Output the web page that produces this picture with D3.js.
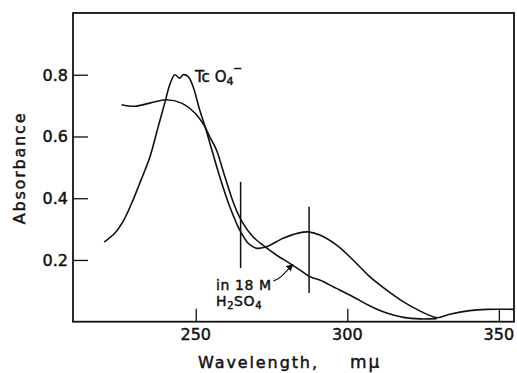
<!DOCTYPE html>
<html>
<head>
<meta charset="utf-8">
<script src="https://cdn.jsdelivr.net/npm/d3@7"></script>
<style>
  body { margin: 0; background: #fff; }
  text { font-family: "DejaVu Sans", sans-serif; fill: #111; stroke: #111; stroke-width: 0.45; }
</style>
</head>
<body>
<svg id="chart" width="517" height="373"></svg>
<script>
// TcO4- in water (sharp double peak)
const waterWl = [219.8, 223.4, 226.3, 229.3, 231.3, 233.3, 234.9, 237.6, 239.9, 241.4, 243.1, 244.7, 245.8, 247.5, 249.1, 251.3, 253.0, 255.3, 257.9, 261.2, 264.5, 267.3, 270.0, 272.8, 276.6, 278.8, 283.8, 287.0, 290.9, 296.4, 301.9, 307.4, 312.9, 318.4, 323.9, 328.3, 329.9, 333.8, 340.4, 345.9, 355.0]
const waterAbs = [0.258, 0.288, 0.330, 0.394, 0.443, 0.492, 0.534, 0.631, 0.713, 0.767, 0.800, 0.789, 0.800, 0.794, 0.762, 0.686, 0.634, 0.557, 0.470, 0.373, 0.297, 0.254, 0.238, 0.241, 0.259, 0.270, 0.287, 0.291, 0.281, 0.249, 0.200, 0.146, 0.103, 0.065, 0.035, 0.016, 0.013, 0.024, 0.036, 0.040, 0.040]

// TcO4- in 18 M H2SO4 (broad band)
const acidWl = [225.5, 229.9, 234.8, 240.3, 245.3, 249.7, 253.0, 254.6, 256.8, 259.6, 262.9, 265.5, 268.8, 272.8, 276.6, 281.0, 284.3, 287.6, 290.9, 296.4, 302.0, 307.5, 313.0, 318.5, 324.0, 329.5]
const acidAbs = [0.703, 0.698, 0.708, 0.719, 0.708, 0.676, 0.632, 0.599, 0.557, 0.470, 0.373, 0.320, 0.276, 0.243, 0.216, 0.189, 0.168, 0.146, 0.135, 0.108, 0.080, 0.051, 0.028, 0.014, 0.009, 0.010]

// vertical marker bars
const markWl = [264.8, 287.4]
const markTop = [0.453, 0.372]
const markBottom = [0.174, 0.093]

const xTicks = [250, 300, 350]
const yTicks = [0.2, 0.4, 0.6, 0.8]

// leader from the "in 18 M" label to the acid curve
const arrowWl = [275.6, 277.8, 280.8, 282.1]
const arrowAbs = [0.132, 0.140, 0.174, 0.185]

const svg = d3.select('#chart')
const plotLeft = 73, plotRight = 514, plotTop = 13, plotBottom = 321.7

const x = d3.scaleLinear().domain([209.5, 355]).range([plotLeft, plotRight])
const y = d3.scaleLinear().domain([0, 1.0]).range([plotBottom, plotTop])

const ink = '#111'

// frame
svg.append('rect')
    .attr('x', plotLeft).attr('y', plotTop)
    .attr('width', plotRight - plotLeft).attr('height', plotBottom - plotTop)
    .attr('fill', 'none').attr('stroke', ink).attr('stroke-width', 1.8)

// inward ticks
svg.append('g')
    .attr('transform', `translate(0,${plotBottom})`)
    .call(d3.axisTop(x).tickValues(xTicks).tickSize(13).tickFormat(''))
    .call(g => g.select('.domain').remove())
    .selectAll('line').attr('stroke', ink).attr('stroke-width', 1.3)

svg.append('g')
    .attr('transform', `translate(${plotLeft},0)`)
    .call(d3.axisRight(y).tickValues(yTicks).tickSize(15).tickFormat(''))
    .call(g => g.select('.domain').remove())
    .selectAll('line').attr('stroke', ink).attr('stroke-width', 1.3)

// tick labels
svg.selectAll('.xlab')
    .data(xTicks)
    .enter()
    .append('text')
    .attr('class', 'xlab')
    .attr('x', d => x(d))
    .attr('y', 340)
    .attr('text-anchor', 'middle')
    .attr('font-size', 16)
    .text(d => d)

svg.selectAll('.ylab')
    .data(yTicks)
    .enter()
    .append('text')
    .attr('class', 'ylab')
    .attr('x', 68)
    .attr('y', d => y(d) + 6)
    .attr('text-anchor', 'end')
    .attr('font-size', 16)
    .text(d => d.toFixed(1))

// axis titles
svg.append('text')
    .attr('x', 198).attr('y', 368)
    .attr('font-size', 16)
    .attr('letter-spacing', 1.9)
    .text('Wavelength,')

svg.append('text')
    .attr('x', 350).attr('y', 368)
    .attr('font-size', 17)
    .attr('letter-spacing', 2)
    .text('mμ')

svg.append('text')
    .attr('transform', 'translate(25,168) rotate(-90)')
    .attr('text-anchor', 'middle')
    .attr('font-size', 16)
    .attr('letter-spacing', 1.8)
    .text('Absorbance')

// curves
const line = d3.line()
    .x(d => x(d[0]))
    .y(d => y(d[1]))
    .curve(d3.curveCatmullRom.alpha(0.5))

svg.append('path')
    .datum(d3.zip(waterWl, waterAbs))
    .attr('d', line)
    .attr('fill', 'none').attr('stroke', ink).attr('stroke-width', 1.6)

svg.append('path')
    .datum(d3.zip(acidWl, acidAbs))
    .attr('d', line)
    .attr('fill', 'none').attr('stroke', ink).attr('stroke-width', 1.6)

// marker bars
svg.selectAll('.mark')
    .data(d3.range(markWl.length))
    .enter()
    .append('line')
    .attr('class', 'mark')
    .attr('x1', i => x(markWl[i])).attr('x2', i => x(markWl[i]))
    .attr('y1', i => y(markTop[i])).attr('y2', i => y(markBottom[i]))
    .attr('stroke', ink).attr('stroke-width', 1.5)

// labels
const tc = svg.append('text')
    .attr('x', 195).attr('y', 82)
    .attr('font-size', 15)
tc.append('tspan').text('Tc O')
tc.append('tspan').attr('font-size', 11).attr('dy', 3).text('4')
svg.append('text')
    .attr('x', 233).attr('y', 72)
    .attr('font-size', 11)
    .text('−')

svg.append('text')
    .attr('x', 216).attr('y', 290)
    .attr('font-size', 14)
    .attr('letter-spacing', 0.6)
    .text('in 18 M')

const h = svg.append('text')
    .attr('x', 216).attr('y', 306)
    .attr('font-size', 14)
    .attr('letter-spacing', 0.6)
h.append('tspan').text('H')
h.append('tspan').attr('font-size', 10).attr('dy', 3).text('2')
h.append('tspan').attr('dy', -3).text('SO')
h.append('tspan').attr('font-size', 10).attr('dy', 3).text('4')

svg.append('defs').append('marker')
    .attr('id', 'head')
    .attr('viewBox', '0 0 10 10')
    .attr('refX', 9).attr('refY', 5)
    .attr('markerWidth', 6).attr('markerHeight', 6)
    .attr('orient', 'auto')
    .append('path')
    .attr('d', 'M0,0 L10,5 L0,10 z')
    .attr('fill', ink)

svg.append('path')
    .datum(d3.zip(arrowWl, arrowAbs))
    .attr('d', d3.line().x(d => x(d[0])).y(d => y(d[1])).curve(d3.curveBasis))
    .attr('fill', 'none').attr('stroke', ink).attr('stroke-width', 1.2)
    .attr('marker-end', 'url(#head)')
</script>
</body>
</html>
